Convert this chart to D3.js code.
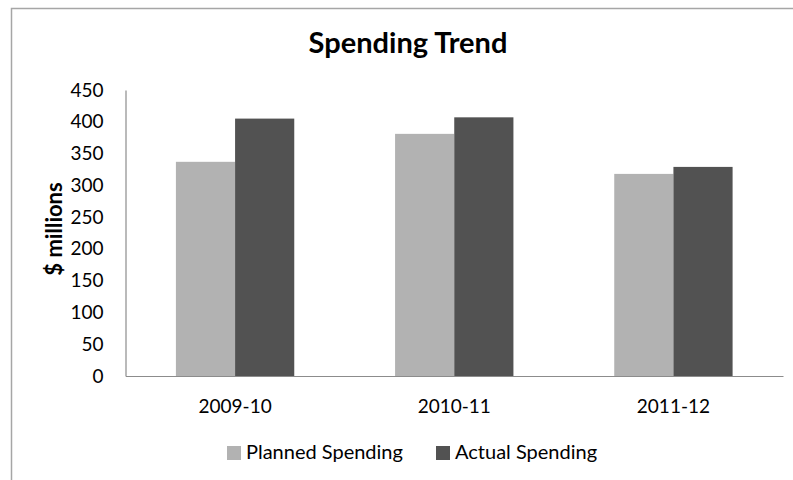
<!DOCTYPE html>
<html>
<head>
<meta charset="utf-8">
<script src="https://cdn.jsdelivr.net/npm/d3@7"></script>
<style>
  body { margin: 0; background: #fff; }
  text { font-family: Lato, "Open Sans", sans-serif; fill: #000; }
</style>
</head>
<body>
<svg id="chart" width="793" height="480"></svg>
<script>
const categories = ['2009-10', '2010-11', '2011-12'];
const seriesNames = ['Planned Spending', 'Actual Spending'];
const planned = [337, 381, 318];
const actual = [405, 407, 329];
const yTicks = [0, 50, 100, 150, 200, 250, 300, 350, 400, 450];
const colours = ['#b2b2b2', '#525252'];

const svg = d3.select('#chart');
const width = +svg.attr('width');
const height = +svg.attr('height');
const margin = { top: 90, right: 10, bottom: 104, left: 125.5 };

// outer frame of the chart area
svg.append('rect')
  .attr('x', 11.5).attr('y', 8.5)
  .attr('width', width).attr('height', height)
  .attr('fill', 'none').attr('stroke', '#a6a6a6').attr('stroke-width', 1.5);

svg.append('text')
  .attr('x', 408).attr('y', 53)
  .attr('text-anchor', 'middle')
  .style('font-weight', 'bold').style('font-size', '29px')
  .text('Spending Trend');

const x0 = d3.scaleBand().domain(categories)
  .range([margin.left, width - margin.right])
  .paddingInner(0.46).paddingOuter(0.23);
const x1 = d3.scaleBand().domain(seriesNames).range([0, x0.bandwidth()]);
const y = d3.scaleLinear().domain([0, 450]).range([height - margin.bottom, margin.top]);

const rows = categories.map((c, i) => ({ cat: c, vals: [planned[i], actual[i]] }));

const groups = svg.append('g').selectAll('g').data(rows).join('g')
  .attr('transform', d => `translate(${x0(d.cat)},0)`);
groups.selectAll('rect').data(d => d.vals.map((v, j) => ({ name: seriesNames[j], v, j })))
  .join('rect')
    .attr('x', d => x1(d.name))
    .attr('y', d => y(d.v))
    .attr('width', x1.bandwidth())
    .attr('height', d => y(0) - y(d.v))
    .attr('fill', d => colours[d.j]);

// y axis
const yAxis = svg.append('g')
  .attr('transform', `translate(${margin.left},0)`)
  .call(d3.axisLeft(y).tickValues(yTicks).tickSize(0).tickPadding(22));
yAxis.select('.domain').attr('stroke', '#8c8c8c').attr('stroke-width', 1.2);
yAxis.selectAll('text').style('font-size', '19px').style('font-family', 'Lato, sans-serif').attr('fill', '#000');

// x axis
const xAxis = svg.append('g')
  .attr('transform', `translate(0,${y(0)})`)
  .call(d3.axisBottom(x0).tickSize(0).tickPadding(24));
xAxis.select('.domain').attr('stroke', '#8c8c8c').attr('stroke-width', 1.2);
xAxis.selectAll('text').style('font-size', '19px').style('font-family', 'Lato, sans-serif').attr('fill', '#000');

svg.append('text')
  .attr('transform', 'translate(62,229) rotate(-90)')
  .attr('text-anchor', 'middle')
  .style('font-weight', 'bold').style('font-size', '22px')
  .text('$ millions');

// legend
const legendX = [227, 436];
const legend = svg.append('g').selectAll('g').data(seriesNames).join('g')
  .attr('transform', (d, i) => `translate(${legendX[i]},446)`);
legend.append('rect')
  .attr('width', 14).attr('height', 14)
  .attr('fill', (d, i) => colours[i]);
legend.append('text')
  .attr('x', 19).attr('y', 13)
  .style('font-size', '20px')
  .text(d => d);
</script>
</body>
</html>
